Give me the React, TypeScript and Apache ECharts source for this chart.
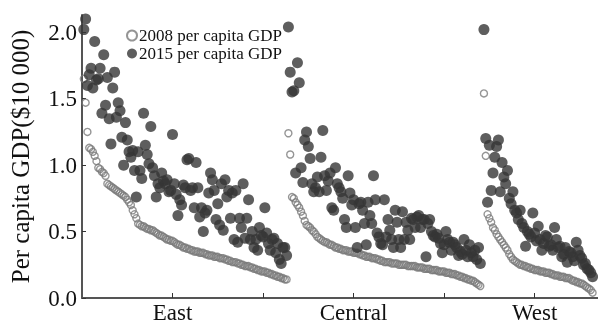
import React, { useEffect, useRef } from "react";
import * as echarts from "echarts";

// Region labels and the first city index of each region (cities sorted by 2008 GDP within region)
const REGION_NAMES = ["East", "Central", "West"];
const REGION_START = [1, 114, 222];
const REGION_LABEL_POS = [50, 150, 250];
const X_TICKS = [50, 100, 150, 200, 250];
const Y_TICKS = [0, 0.5, 1.0, 1.5, 2.0];

const east2008 = [
  1.65, 1.47, 1.25, 1.13, 1.12, 1.1, 1.07, 1.03, 0.98, 0.97, 0.95, 0.94, 0.92, 0.86, 0.85, 0.84, 0.83, 0.82, 0.81, 0.8,
  0.79, 0.78, 0.77, 0.76, 0.74, 0.72, 0.7, 0.66, 0.63, 0.6, 0.56, 0.55, 0.54, 0.54, 0.53, 0.52, 0.52, 0.51, 0.51, 0.5,
  0.49, 0.48, 0.47, 0.47, 0.46, 0.45, 0.44, 0.44, 0.43, 0.43, 0.42, 0.41, 0.4, 0.4, 0.39, 0.38, 0.38, 0.37, 0.37, 0.36,
  0.36, 0.35, 0.35, 0.35, 0.34, 0.34, 0.34, 0.33, 0.33, 0.32, 0.32, 0.32, 0.31, 0.31, 0.31, 0.3, 0.3, 0.3, 0.29, 0.29,
  0.28, 0.28, 0.27, 0.27, 0.27, 0.26, 0.26, 0.25, 0.25, 0.24, 0.24, 0.24, 0.23, 0.23, 0.22, 0.22, 0.21, 0.21, 0.2, 0.2,
  0.2, 0.19, 0.19, 0.18, 0.18, 0.17, 0.17, 0.16, 0.16, 0.15, 0.15, 0.14, 0.14,
];
const central2008 = [
  1.24, 1.08, 0.76, 0.75, 0.72, 0.7, 0.68, 0.65, 0.62, 0.58, 0.55, 0.54, 0.53, 0.51, 0.5, 0.48, 0.46, 0.45, 0.44, 0.43,
  0.42, 0.42, 0.41, 0.4, 0.4, 0.39, 0.38, 0.38, 0.37, 0.37, 0.36, 0.36, 0.36, 0.35, 0.35, 0.35, 0.34, 0.34, 0.34, 0.33,
  0.33, 0.32, 0.32, 0.31, 0.31, 0.31, 0.3, 0.3, 0.3, 0.29, 0.29, 0.28, 0.28, 0.27, 0.27, 0.27, 0.27, 0.26, 0.26, 0.26,
  0.26, 0.25, 0.25, 0.25, 0.25, 0.25, 0.24, 0.24, 0.24, 0.24, 0.24, 0.23, 0.23, 0.23, 0.23, 0.22, 0.22, 0.22, 0.22, 0.21,
  0.21, 0.21, 0.21, 0.2, 0.2, 0.2, 0.2, 0.19, 0.19, 0.19, 0.18, 0.18, 0.18, 0.17, 0.17, 0.16, 0.16, 0.15, 0.15, 0.14,
  0.14, 0.13, 0.13, 0.12, 0.11, 0.1, 0.09,
];
const west2008 = [
  1.54, 1.07, 0.63, 0.6, 0.57, 0.53, 0.51, 0.48, 0.46, 0.44, 0.42, 0.4, 0.38, 0.36, 0.33, 0.31, 0.29, 0.28, 0.27, 0.26,
  0.25, 0.25, 0.24, 0.24, 0.23, 0.23, 0.22, 0.22, 0.21, 0.21, 0.21, 0.2, 0.2, 0.2, 0.19, 0.19, 0.19, 0.18, 0.18, 0.17,
  0.17, 0.17, 0.16, 0.16, 0.16, 0.15, 0.15, 0.15, 0.14, 0.13, 0.13, 0.12, 0.12, 0.11, 0.11, 0.1, 0.09, 0.08, 0.07, 0.06,
  0.04,
];

const east2015 = [
  2.02, 2.1, 1.6, 1.68, 1.73, 1.58, 1.93, 1.64, 1.65, 1.73, 1.39, 1.83, 1.45, 1.66, 1.35, 1.16, 1.58, 1.7, 1.36, 1.47,
  1.41, 1.21, 1.0, 1.32, 1.19, 1.1, 1.06, 1.11, 0.96, 0.76, 1.1, 0.96, 0.9, 1.39, 1.15, 1.08, 1.01, 1.29, 0.98, 0.92,
  0.76, 0.86, 0.83, 0.94, 0.88, 0.86, 0.89, 0.8, 0.81, 1.23, 0.86, 0.78, 0.62, 0.74, 0.7, 0.85, 0.83, 1.04, 1.05, 0.81,
  0.83, 0.68, 1.02, 0.83, 0.61, 0.68, 0.5, 0.64, 0.66, 0.79, 0.94, 0.89, 0.81, 0.59, 0.71, 0.55, 0.86, 0.51, 0.89, 0.76,
  0.81, 0.6, 0.79, 0.44, 0.81, 0.42, 0.6, 0.53, 0.86, 0.45, 0.6, 0.74, 0.44, 0.5, 0.38, 0.44, 0.36, 0.53, 0.47, 0.46,
  0.68, 0.49, 0.41, 0.36, 0.44, 0.45, 0.34, 0.41, 0.29, 0.26, 0.38, 0.38, 0.32,
];
const central2015 = [
  2.04, 1.7, 1.55, 1.56, 0.94, 1.77, 1.62, 0.98, 0.87, 1.19, 1.25, 1.14, 1.05, 0.86, 0.8, 0.83, 0.91, 0.8, 1.06, 1.26,
  0.92, 0.81, 0.88, 0.94, 0.68, 0.66, 0.98, 0.86, 0.83, 0.8, 0.75, 0.59, 0.53, 0.92, 0.79, 0.7, 0.74, 0.53, 0.38, 0.71,
  0.72, 0.66, 0.56, 0.4, 0.72, 0.62, 0.56, 0.92, 0.74, 0.49, 0.46, 0.41, 0.4, 0.74, 0.46, 0.59, 0.51, 0.44, 0.38, 0.66,
  0.57, 0.44, 0.38, 0.65, 0.44, 0.57, 0.51, 0.44, 0.6, 0.59, 0.53, 0.61, 0.62, 0.53, 0.59, 0.59, 0.31, 0.56, 0.59, 0.5,
  0.47, 0.46, 0.48, 0.45, 0.41, 0.34, 0.4, 0.5, 0.44, 0.42, 0.36, 0.42, 0.4, 0.38, 0.32, 0.35, 0.33, 0.44, 0.36, 0.31,
  0.4, 0.34, 0.31, 0.36, 0.29, 0.38, 0.26,
];
const west2015 = [
  2.02, 1.2, 0.72, 1.15, 0.81, 0.94, 1.06, 1.14, 1.19, 0.8, 1.02, 0.91, 0.86, 0.96, 0.75, 0.71, 0.8, 0.66, 0.64, 0.59,
  0.66, 0.56, 0.53, 0.39, 0.5, 0.48, 0.46, 0.64, 0.49, 0.43, 0.54, 0.44, 0.36, 0.41, 0.47, 0.46, 0.39, 0.4, 0.36, 0.53,
  0.44, 0.38, 0.39, 0.31, 0.33, 0.38, 0.27, 0.35, 0.34, 0.31, 0.28, 0.42, 0.36, 0.32, 0.3, 0.25, 0.26, 0.22, 0.21, 0.19,
  0.16,
];

const FONT = "'Liberation Serif', 'Times New Roman', serif";

function toPoints(groups: number[][]): number[][] {
  const out: number[][] = [];
  groups.forEach((vals, r) => {
    vals.forEach((v, i) => out.push([REGION_START[r] + i, v]));
  });
  return out;
}

export default function App() {
  const ref = useRef<HTMLDivElement>(null);
  useEffect(() => {
    if (!ref.current) return;
    const chart = echarts.init(ref.current, undefined, { renderer: "svg" });
    const data2008 = toPoints([east2008, central2008, west2008]);
    const data2015 = toPoints([east2015, central2015, west2015]);
    chart.setOption({
      animation: false,
      textStyle: { fontFamily: FONT },
      grid: { left: 78.5, right: 0, top: 15, bottom: 25, containLabel: false },
      legend: {
        orient: "vertical",
        left: 121,
        top: 22,
        itemWidth: 10,
        itemHeight: 10,
        itemGap: 1,
        textStyle: { fontFamily: FONT, fontSize: 17, color: "#111", padding: [0, 0, 0, -3] },
        data: ["2008 per capita GDP", "2015 per capita GDP"],
      },
      xAxis: {
        type: "value",
        min: 0,
        max: 285,
        axisLine: { show: true, onZero: false, lineStyle: { color: "#555", width: 2 } },
        axisTick: { show: true, inside: true, length: 5, customValues: X_TICKS, lineStyle: { color: "#333", width: 1 } },
        axisLabel: {
          customValues: REGION_LABEL_POS,
          formatter: (v: number) => REGION_NAMES[REGION_LABEL_POS.indexOf(v)] ?? "",
          fontFamily: FONT,
          fontSize: 23,
          color: "#111",
          margin: 3,
        },
        splitLine: { show: false },
      },
      yAxis: {
        type: "value",
        min: 0,
        max: 2.13,
        name: "Per capita GDP($10 000)",
        nameLocation: "middle",
        nameGap: 49,
        nameTextStyle: { fontFamily: FONT, fontSize: 25, color: "#111" },
        axisLine: { show: true, lineStyle: { color: "#555", width: 2 } },
        axisTick: { show: true, inside: true, length: 4, customValues: Y_TICKS, lineStyle: { color: "#333", width: 1 } },
        axisLabel: {
          customValues: Y_TICKS,
          formatter: (v: number) => v.toFixed(1),
          fontFamily: FONT,
          fontSize: 23,
          color: "#111",
          margin: 5,
        },
        splitLine: { show: false },
      },
      series: [
        {
          name: "2008 per capita GDP",
          type: "scatter",
          symbol: "circle",
          symbolSize: 7,
          itemStyle: { color: "rgba(255,255,255,0)", borderColor: "#7a7a7a", borderWidth: 1.4 },
          data: data2008,
        },
        {
          name: "2015 per capita GDP",
          type: "scatter",
          symbol: "circle",
          symbolSize: 11,
          itemStyle: { color: "#363636" },
          data: data2015,
        },
      ],
    });
    return () => chart.dispose();
  }, []);
  return <div ref={ref} style={{ position: "fixed", left: 0, top: 0, width: 598, height: 324 }} />;
}
